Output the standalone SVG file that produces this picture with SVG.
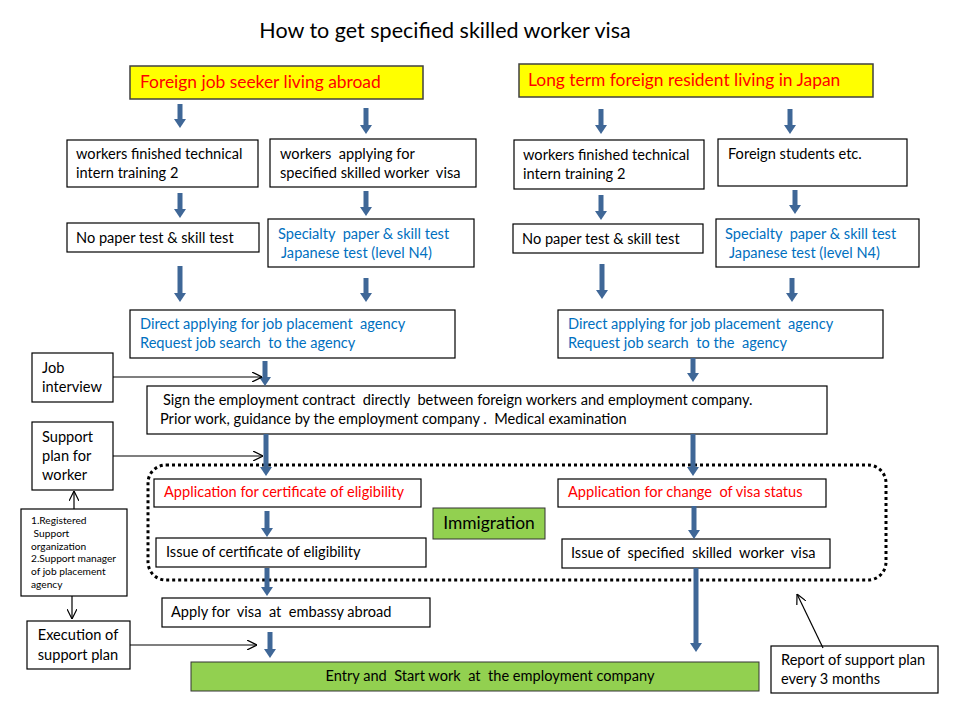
<svg xmlns="http://www.w3.org/2000/svg" width="960" height="720" viewBox="0 0 960 720">
<defs>
<marker id="bh" viewBox="0 0 9 12" refX="0" refY="6" markerWidth="9" markerHeight="12" markerUnits="userSpaceOnUse" orient="auto">
<path d="M0,0 L9,6 L0,12 z" fill="#3f6797"/>
</marker>
<marker id="oh" viewBox="0 0 10 10" refX="10" refY="5" markerWidth="10" markerHeight="10" markerUnits="userSpaceOnUse" orient="auto">
<path d="M0,0 L10,5 L0,10" fill="none" stroke="#000" stroke-width="1.2"/>
</marker>
</defs>
<style>
text{font-family:Lato,"Liberation Sans",sans-serif;font-size:14.6px;fill:#000;white-space:pre}
.box{fill:#fff;stroke:#000;stroke-width:1.2}
.yel{fill:#ffff00;stroke:#404040;stroke-width:1.5}
.grn{fill:#92d050;stroke:#333;stroke-width:1}
.red{fill:#ff0000}
.blu{fill:#0070c0}
.big{font-size:17.4px}
.sm{font-size:10.2px}
.ba{stroke:#3f6797;stroke-width:5;marker-end:url(#bh);fill:none}
.la{stroke:#000;stroke-width:1.2;marker-end:url(#oh);fill:none}
</style>
<rect width="960" height="720" fill="#fff"/>
<text x="445" y="38" text-anchor="middle" style="font-size:21.5px">How to get specified skilled worker visa</text>

<g id="abroad"><rect class="yel" x="130" y="66" width="293" height="33"/><text class="red big" x="140" y="88">Foreign job seeker living abroad</text></g>
<g id="japan"><rect class="yel" x="519" y="64" width="354" height="33"/><text class="red big" x="528" y="86">Long term foreign resident living in Japan</text></g>

<g id="a1"><rect class="box" x="67" y="140" width="191" height="47"/><text x="76" y="159">workers finished technical</text><text x="76" y="178">intern training 2</text></g>
<g id="a2"><rect class="box" x="270" y="139" width="206" height="48"/><text x="280" y="159">workers  applying for</text><text x="280" y="178">specified skilled worker  visa</text></g>
<g id="b1"><rect class="box" x="514" y="140" width="190" height="49"/><text x="523" y="160">workers finished technical</text><text x="523" y="179">intern training 2</text></g>
<g id="b2"><rect class="box" x="718" y="139" width="189" height="47"/><text x="728" y="159">Foreign students etc.</text></g>

<g id="a3"><rect class="box" x="67" y="223" width="192" height="29"/><text x="76" y="243">No paper test &amp; skill test</text></g>
<g id="a4"><rect class="box" x="268" y="219" width="206" height="48"/><text class="blu" x="278" y="239">Specialty  paper &amp; skill test</text><text class="blu" x="281" y="258">Japanese test (level N4)</text></g>
<g id="b3"><rect class="box" x="513" y="224" width="190" height="29"/><text x="522" y="244">No paper test &amp; skill test</text></g>
<g id="b4"><rect class="box" x="716" y="219" width="203" height="48"/><text class="blu" x="725" y="239">Specialty  paper &amp; skill test</text><text class="blu" x="729" y="258">Japanese test (level N4)</text></g>

<g id="a5"><rect class="box" x="130" y="310" width="325" height="48"/><text class="blu" x="140" y="329">Direct applying for job placement  agency</text><text class="blu" x="140" y="348">Request job search  to the agency</text></g>
<g id="b5"><rect class="box" x="558" y="310" width="325" height="48"/><text class="blu" x="568" y="329">Direct applying for job placement  agency</text><text class="blu" x="568" y="348">Request job search  to the  agency</text></g>

<g id="sign"><rect class="box" x="147" y="386" width="680" height="48"/><text x="163" y="405">Sign the employment contract  directly  between foreign workers and employment company.</text><text x="160" y="424">Prior work, guidance by the employment company .  Medical examination</text></g>

<g id="job"><rect class="box" x="32" y="353" width="81" height="49"/><text x="42" y="373">Job</text><text x="42" y="392">interview</text></g>
<g id="plan"><rect class="box" x="32" y="422" width="81" height="68"/><text x="42" y="442">Support</text><text x="42" y="461">plan for</text><text x="42" y="480">worker</text></g>
<g id="reg"><rect class="box" x="21" y="509" width="106" height="87"/><text class="sm" x="31" y="524">1.Registered</text><text class="sm" x="31" y="537"> Support</text><text class="sm" x="31" y="550">organization</text><text class="sm" x="31" y="562">2.Support manager</text><text class="sm" x="31" y="575">of job placement</text><text class="sm" x="31" y="588">agency</text></g>
<g id="exec"><rect class="box" x="27" y="621" width="103" height="48"/><text x="78" y="640" text-anchor="middle">Execution of</text><text x="78" y="660" text-anchor="middle">support plan</text></g>

<g id="immig-frame"><rect x="148" y="465" width="738" height="115" rx="18" fill="none" stroke="#000" stroke-width="3" stroke-dasharray="3,3"/></g>
<g id="cert"><rect class="box" x="154" y="479" width="267" height="28"/><text class="red" x="164" y="497">Application for certificate of eligibility</text></g>
<g id="issuecert"><rect class="box" x="156" y="538" width="270" height="29"/><text x="166" y="557">Issue of certificate of eligibility</text></g>
<g id="visa"><rect class="box" x="162" y="598" width="268" height="29"/><text x="171" y="617">Apply for  visa  at  embassy abroad</text></g>
<g id="immig"><rect class="grn" x="433" y="508" width="112" height="31"/><text class="big" x="489" y="529" text-anchor="middle">Immigration</text></g>
<g id="change"><rect class="box" x="558" y="479" width="268" height="28"/><text class="red" x="568" y="497">Application for change  of visa status</text></g>
<g id="issuevisa"><rect class="box" x="562" y="539" width="268" height="29"/><text x="571" y="558">Issue of  specified  skilled  worker  visa</text></g>
<g id="entry"><rect class="grn" x="191" y="662" width="568" height="29"/><text x="490" y="681" text-anchor="middle">Entry and  Start work  at  the employment company</text></g>
<g id="report"><rect class="box" x="771" y="646" width="167" height="47"/><text x="781" y="665">Report of support plan</text><text x="781" y="684">every 3 months</text></g>

<g id="connectors">
<line class="ba" x1="180" y1="104" x2="180" y2="119"/>
<line class="ba" x1="366" y1="108" x2="366" y2="125"/>
<line class="ba" x1="601" y1="109" x2="601" y2="125"/>
<line class="ba" x1="790" y1="109" x2="790" y2="125"/>
<line class="ba" x1="180" y1="193" x2="180" y2="209"/>
<line class="ba" x1="366" y1="191" x2="366" y2="207"/>
<line class="ba" x1="601" y1="195" x2="601" y2="211"/>
<line class="ba" x1="795" y1="190" x2="795" y2="205"/>
<line class="ba" x1="180" y1="266" x2="180" y2="293"/>
<line class="ba" x1="366" y1="278" x2="366" y2="293"/>
<line class="ba" x1="602" y1="264" x2="602" y2="290"/>
<line class="ba" x1="792" y1="278" x2="792" y2="293"/>
<line class="ba" x1="265" y1="361" x2="265" y2="377"/>
<line class="ba" x1="693" y1="358" x2="693" y2="373"/>
<line class="ba" x1="266" y1="434" x2="266" y2="467"/>
<line class="ba" x1="693" y1="434" x2="693" y2="467"/>
<line class="ba" x1="267" y1="511" x2="267" y2="528"/>
<line class="ba" x1="267" y1="568" x2="267" y2="587"/>
<line class="ba" x1="270" y1="632" x2="270" y2="649"/>
<line class="ba" x1="694" y1="506" x2="694" y2="530"/>
<line class="ba" x1="696" y1="568" x2="696" y2="643"/>
<line class="la" x1="113" y1="377" x2="262" y2="377"/>
<line class="la" x1="113" y1="456" x2="263" y2="456"/>
<line class="la" x1="74" y1="509" x2="74" y2="491"/>
<line class="la" x1="72" y1="596" x2="72" y2="619"/>
<line class="la" x1="130" y1="645" x2="257" y2="645"/>
<line class="la" x1="823" y1="648" x2="797" y2="594"/>
</g>
</svg>
